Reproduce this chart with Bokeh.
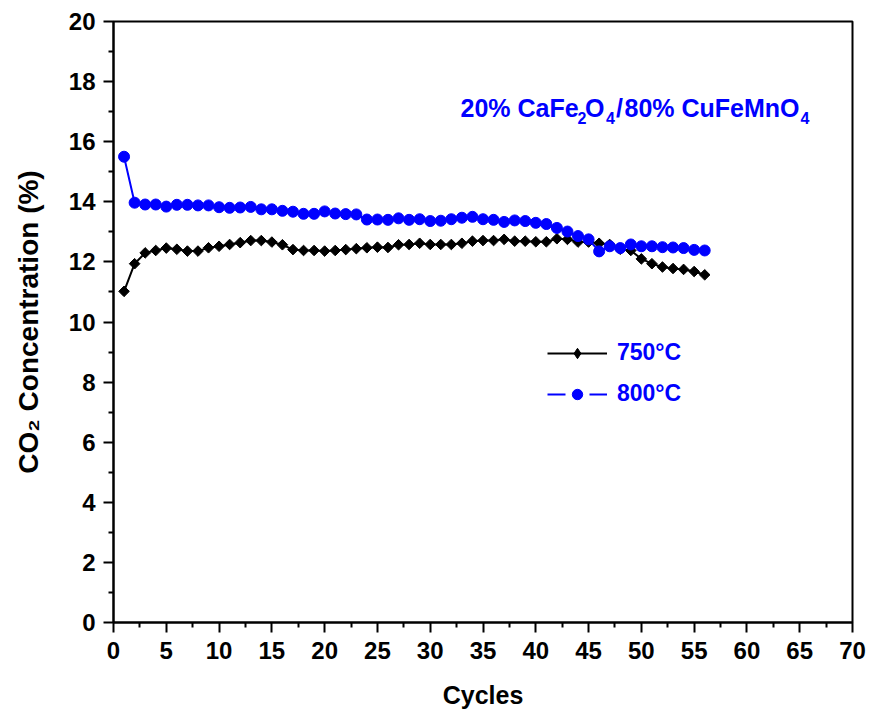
from bokeh.plotting import figure
from bokeh.models import (ColumnDataSource, Legend, LegendItem, Label,
                          FixedTicker)
from bokeh.embed import file_html
from bokeh.resources import INLINE
import math

# CO2 concentration (%) per redox cycle for the mixed oxygen carrier
cycles = list(range(1, 57))
co2_750 = [11.02, 11.94, 12.30, 12.38, 12.46, 12.42, 12.36, 12.36, 12.47, 12.52,
           12.58, 12.64, 12.71, 12.71, 12.66, 12.57, 12.41, 12.38, 12.38, 12.36,
           12.38, 12.41, 12.44, 12.47, 12.49, 12.48, 12.57, 12.58, 12.62, 12.58,
           12.58, 12.58, 12.62, 12.69, 12.71, 12.71, 12.75, 12.69, 12.69, 12.67,
           12.67, 12.77, 12.75, 12.66, 12.66, 12.62, 12.58, 12.42, 12.38, 12.10,
           11.94, 11.83, 11.78, 11.75, 11.68, 11.57]
co2_800 = [15.50, 13.97, 13.91, 13.91, 13.84, 13.90, 13.90, 13.88, 13.88, 13.82,
           13.80, 13.81, 13.83, 13.75, 13.75, 13.70, 13.67, 13.60, 13.60, 13.68,
           13.61, 13.59, 13.58, 13.41, 13.41, 13.40, 13.45, 13.40, 13.42, 13.36,
           13.37, 13.42, 13.47, 13.50, 13.42, 13.40, 13.33, 13.38, 13.36, 13.30,
           13.26, 13.13, 13.01, 12.86, 12.75, 12.35, 12.52, 12.46, 12.58, 12.52,
           12.52, 12.49, 12.48, 12.46, 12.40, 12.38]
series_labels = ["750°C", "800°C"]
x_ticks = list(range(0, 75, 5))
y_ticks = list(range(0, 22, 2))

# sample formula, split into (text, is_subscript) runs
formula_runs = [("20% CaFe", False), ("2", True), ("O", False), ("4", True),
                ("/", False), ("80% CuFeMnO", False), ("4", True)]
# left edge of each run, px from the left of the plot frame
formula_offsets = [347, 464, 471.5, 492.5, 502.5, 511, 687]

FONT = "Liberation Sans"
BLUE = "#0000FF"

p = figure(width=870, height=714, output_backend="svg", toolbar_location=None,
           x_range=(0, 70), y_range=(0, 20),
           min_border_left=113, min_border_right=18,
           min_border_top=21, min_border_bottom=92)
p.grid.visible = False
p.outline_line_color = "black"
p.outline_line_width = 2
p.background_fill_color = "white"
p.border_fill_color = "white"

for ax in (p.xaxis[0], p.yaxis[0]):
    ax.axis_line_width = 2
    ax.major_tick_line_width = 2
    ax.minor_tick_line_width = 2
    ax.major_tick_in = 0
    ax.major_tick_out = 10
    ax.minor_tick_in = 0
    ax.minor_tick_out = 5
    ax.major_label_text_font = FONT
    ax.major_label_text_font_style = "bold"
    ax.major_label_text_font_size = "24px"
    ax.major_label_text_color = "black"
    ax.axis_label_text_font = FONT
    ax.axis_label_text_font_style = "bold"
    ax.axis_label_text_color = "black"

p.xaxis.major_label_standoff = 9
p.yaxis.major_label_standoff = 8
p.xaxis.ticker = FixedTicker(ticks=x_ticks, minor_ticks=[t + 2.5 for t in x_ticks[:-1]])
p.yaxis.ticker = FixedTicker(ticks=y_ticks, minor_ticks=[t + 1 for t in y_ticks[:-1]])
p.xaxis.axis_label = "Cycles"
p.yaxis.axis_label = "CO₂ Concentration (%)"
p.xaxis.axis_label_text_font_size = "25px"
p.yaxis.axis_label_text_font_size = "28px"
p.xaxis.axis_label_standoff = 19
p.yaxis.axis_label_standoff = 22

src = ColumnDataSource(dict(x=cycles, a=co2_750, b=co2_800))

l750 = p.line("x", "a", source=src, line_color="black", line_width=2)
m750 = p.scatter("x", "a", source=src, marker="square", size=7.5,
                 angle=math.pi / 4, fill_color="black", line_color="black")
l800 = p.line("x", "b", source=src, line_color=BLUE, line_width=2)
m800 = p.scatter("x", "b", source=src, marker="circle", size=11,
                 fill_color=BLUE, line_color=BLUE)

# swatch-only glyphs for the legend (no drawable points)
nan_src = ColumnDataSource(dict(x=[float("nan")], y=[float("nan")]))
k750_mark = p.scatter("x", "y", source=nan_src, marker="diamond",
                      fill_color="black", line_color="black")
k800_line = p.line("x", "y", source=nan_src, line_color=BLUE, line_width=2,
                   line_dash="18 24")
k800_mark = p.scatter("x", "y", source=nan_src, marker="circle",
                      fill_color=BLUE, line_color=BLUE)

legend = Legend(items=[
    LegendItem(label=series_labels[0], renderers=[l750, k750_mark]),
    LegendItem(label=series_labels[1], renderers=[k800_line, k800_mark]),
], location=(434, 215))
legend.label_text_font = FONT
legend.label_text_font_style = "bold"
legend.label_text_font_size = "23px"
legend.label_text_color = BLUE
legend.glyph_width = 60
legend.glyph_height = 26
legend.label_height = 26
legend.label_standoff = 10
legend.spacing = 14
legend.padding = 0
legend.margin = 0
legend.border_line_color = None
legend.background_fill_alpha = 0
p.add_layout(legend, "center")

# formula annotation: main runs sit on one baseline, subscripts drop below it
main_baseline = 622 - 107   # px above the frame bottom
sub_baseline = 622 - 117.5
for (txt, is_sub), dx in zip(formula_runs, formula_offsets):
    p.add_layout(Label(
        x=dx, y=sub_baseline if is_sub else main_baseline,
        x_units="screen", y_units="screen", text=txt,
        text_font=FONT, text_font_style="bold",
        text_font_size="16px" if is_sub else "25px",
        text_color=BLUE, text_baseline="alphabetic", text_align="left"))

open("out.html", "w").write(file_html(p, INLINE))
